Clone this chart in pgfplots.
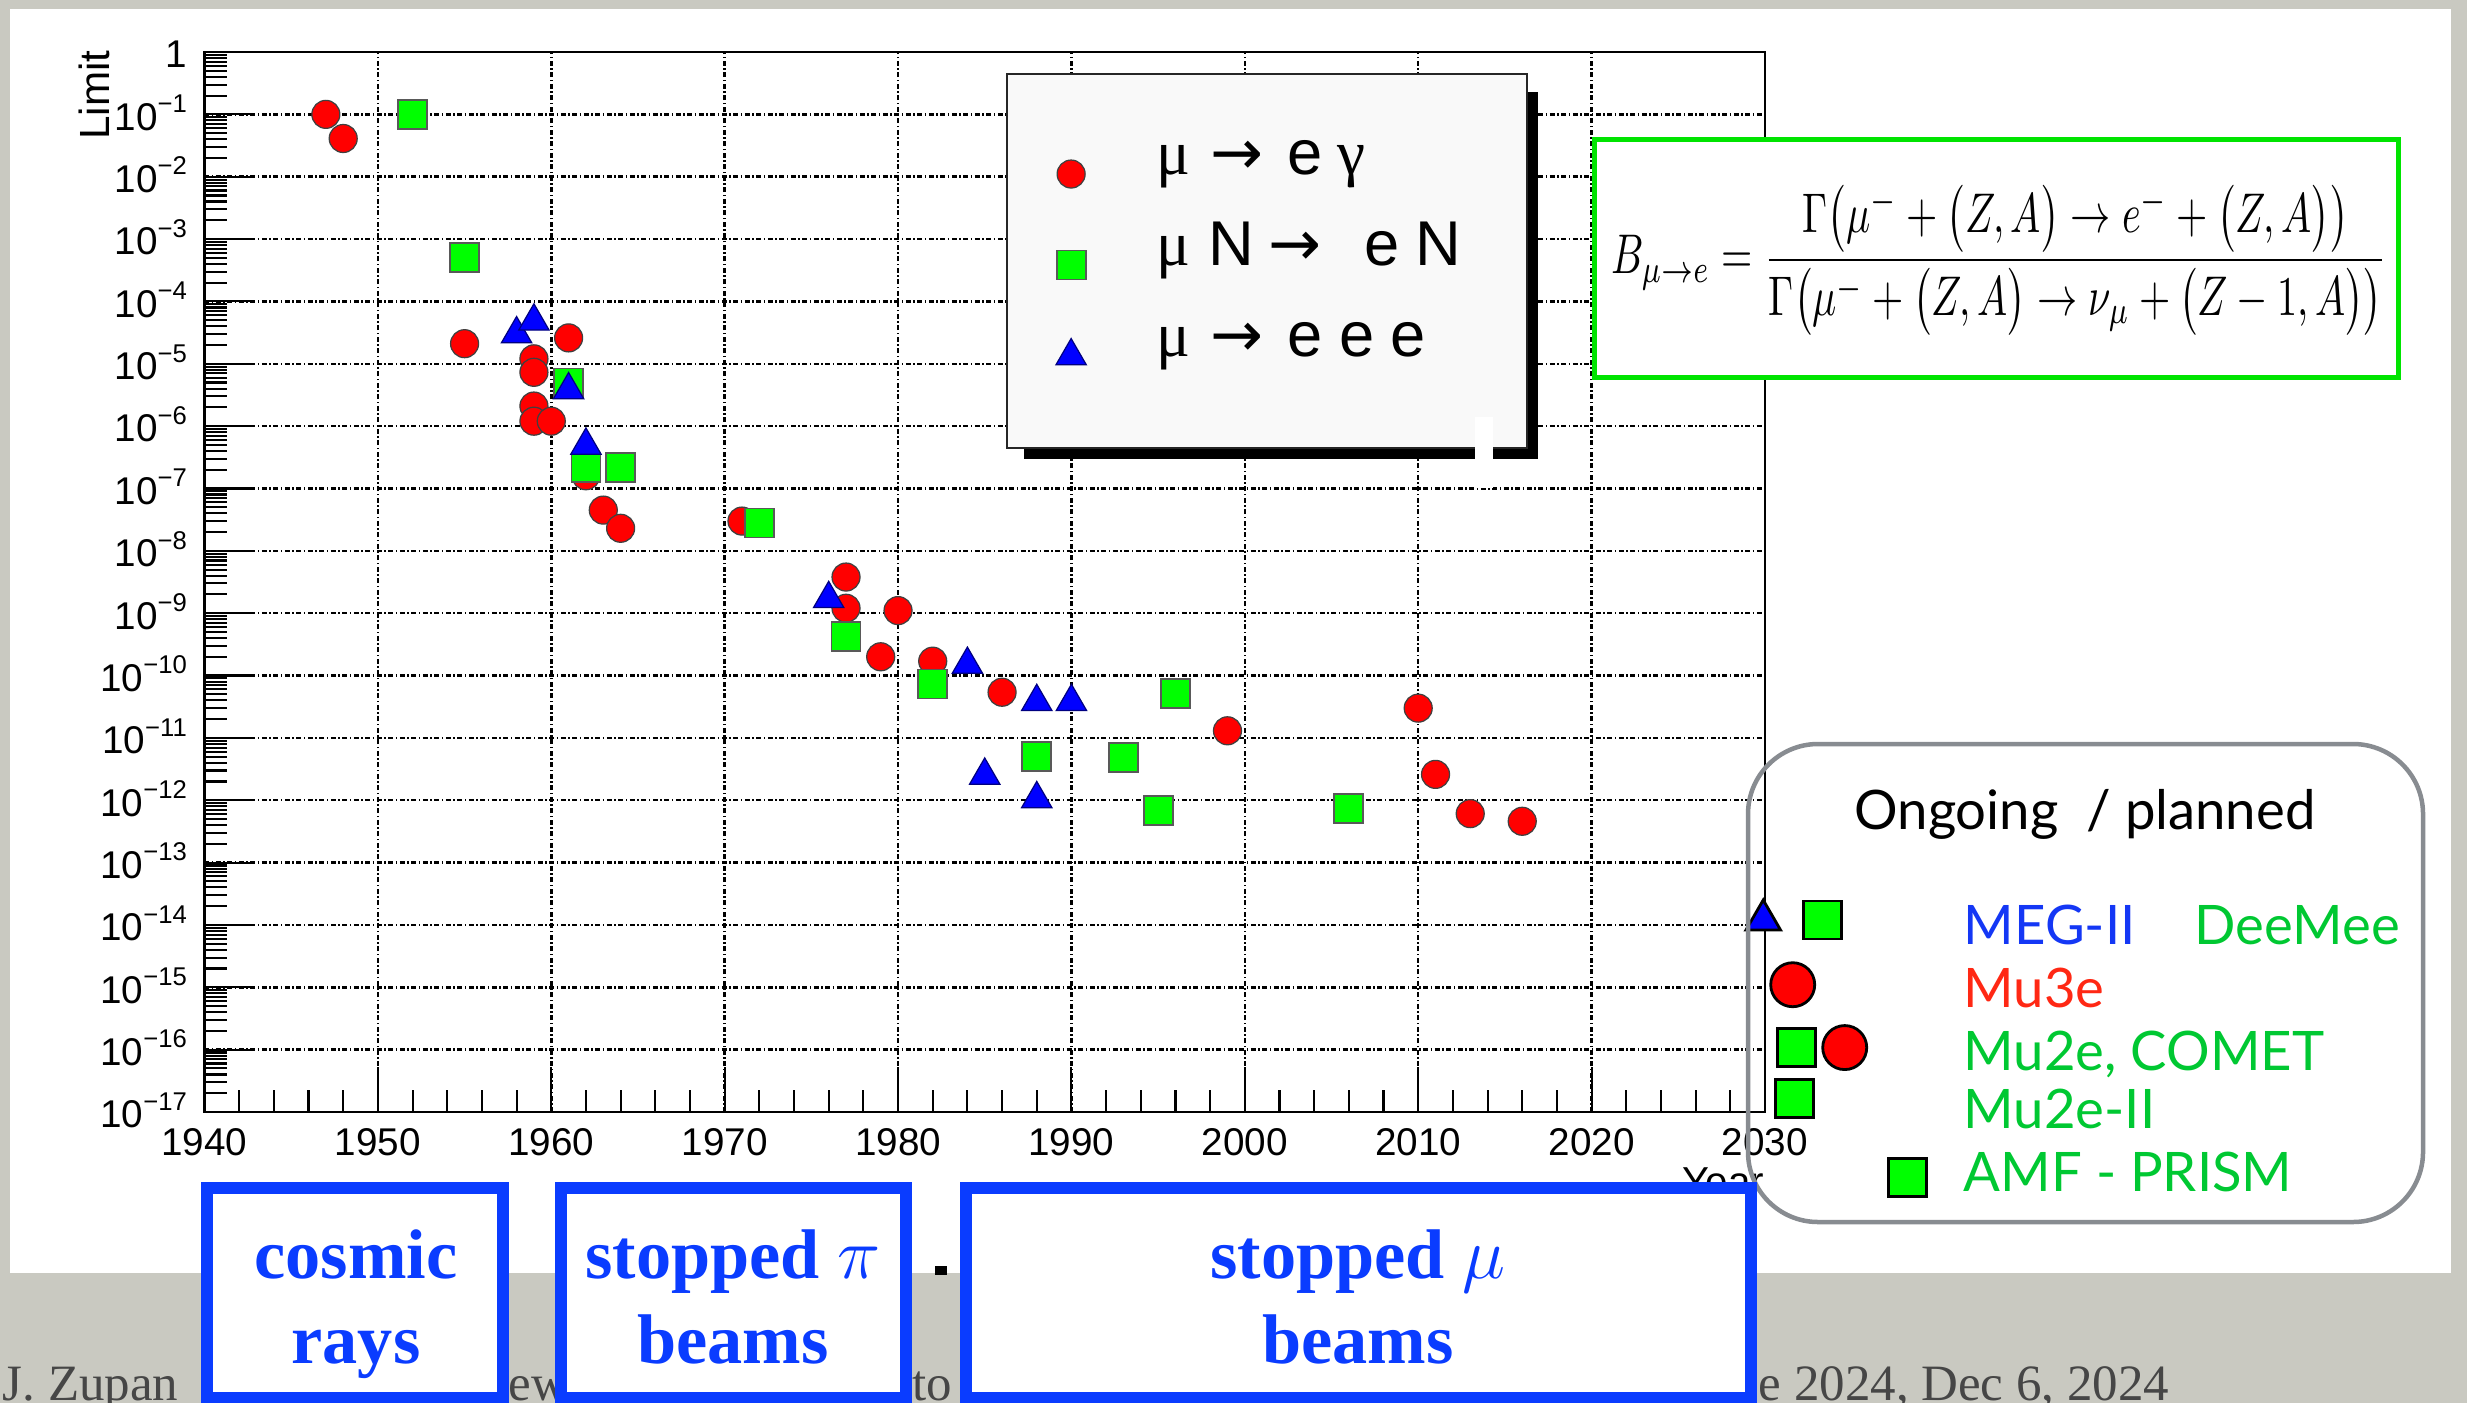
\documentclass[border=0pt]{standalone}
\usepackage{pgfplots}
\pgfplotsset{compat=1.18}
\usepackage{graphicx}
\usepackage{fontspec}
\setmainfont{Liberation Sans}
\newfontfamily\serif{Liberation Serif}
\newfontfamily\lato{Lato}
\newfontfamily\dejavu{DejaVu Sans}
\definecolor{bggray}{RGB}{201,201,193}
\definecolor{rootred}{RGB}{255,0,0}
\definecolor{rootgreen}{RGB}{0,255,0}
\definecolor{rootblue}{RGB}{0,0,255}
\definecolor{boxgreen}{RGB}{0,228,0}
\definecolor{ongray}{RGB}{136,140,145}
\definecolor{megblue}{RGB}{20,55,245}
\definecolor{txtgreen}{RGB}{0,200,50}
\definecolor{txtred}{RGB}{255,40,20}
\definecolor{stampblue}{RGB}{10,60,255}
\definecolor{footgray}{RGB}{70,70,70}

\newcommand\logtick[1]{\pgfmathtruncatemacro\myex{round(#1)}\ifnum\myex=0 1\else 10\raisebox{5pt}{\fontsize{7.3}{7.3}\selectfont −\the\numexpr-\myex\relax}\fi}
\newcommand\arr{{\dejavu →}}

\def\minorlist{2e-1,3e-1,4e-1,5e-1,6e-1,7e-1,8e-1,9e-1}
\foreach \e in {-17,...,-2}{\foreach \m in {2,...,9}{\xdef\minorlist{\minorlist,\m e\e}}}

\pgfplotsset{singlemark legend/.style={legend image code/.code={\draw[##1] plot coordinates {(0cm,0cm)};}}}

\begin{document}
\begin{tikzpicture}
\path[use as bounding box] (0,0) rectangle (246.7mm,-140.3mm);
\clip (0,0) rectangle (246.7mm,-140.3mm);
\begin{scope}[x=0.1mm,y=-0.1mm]
\fill[bggray] (0,0) rectangle (2467,1403);
\fill[white] (10,9) rectangle (2451,1273);
% footer
\begin{scope}[every node/.style={anchor=base west, inner sep=0pt, text=footgray, font=\serif\fontsize{14.5}{16}\selectfont}]
\node at (2,1400) {J. Zupan};
\node at (508,1400) {ew};
\node at (912,1400) {to};
\node at (1758,1400) {e 2024, Dec 6, 2024};
\end{scope}
\node[anchor=north east, inner sep=0pt, font=\fontsize{11.5}{13}\selectfont] at (1765,1167) {Year};
\end{scope}

\begin{axis}[
  at={(20.45mm,-111.2mm)}, anchor=south west,
  scale only axis, width=156.05mm, height=106mm,
  xmin=1940, xmax=2030, ymin=1e-17, ymax=1,
  ymode=log, log basis y=10,
  clip=false,
  axis line style={line width=0.65pt},
  xtick={1940,1950,1960,1970,1980,1990,2000,2010,2020,2030},
  xticklabels={1940,1950,1960,1970,1980,1990,2000,2010,2020,2030},
  minor x tick num=4,
  ytick={1e-17,1e-16,1e-15,1e-14,1e-13,1e-12,1e-11,1e-10,1e-9,1e-8,1e-7,1e-6,1e-5,1e-4,1e-3,1e-2,1e-1,1},
  minor ytick/.expanded={\minorlist},
  yticklabel={\logtick{\tick}},
  tick pos=left, tick align=inside,
  major tick length=4.5mm, minor tick length=2.2mm,
  tick style={black, line width=0.6pt},
  xmajorgrids, ymajorgrids,
  major grid style={black, line width=0.7pt, dash pattern=on 0.5mm off 0.25mm on 0.15mm off 0.25mm},
  ticklabel style={font=\fontsize{11}{13}\selectfont, inner sep=0pt},
  xticklabel style={anchor=north, yshift=-1.6mm},
  yticklabel style={anchor=base east, xshift=-1.7mm, yshift=-4.5pt},
  singlemark legend,
  legend style={at={(0.54566,0.9132)}, anchor=north west, draw=none, fill=none,
    inner sep=0pt, outer sep=0pt, row sep=3.1mm,
    /tikz/every odd column/.append style={column sep=7mm},
    nodes={inner sep=0pt, text height=3mm, text depth=3mm},
    font=\fontsize{18}{18}\selectfont},
  legend cell align=left,
]
\addplot[only marks, mark=*, mark size=1.4mm, mark options={fill=rootred, draw=black!75, line width=0.35pt}] coordinates {
(1947,1e-1) (1948,4.1e-2) (1955,2.1e-5) (1959,1.2e-5) (1959,7.3e-6) (1959,2.1e-6) (1959,1.2e-6) (1960,1.2e-6)
(1961,2.6e-5) (1962,1.6e-7) (1963,4.5e-8) (1964,2.3e-8) (1971,3.0e-8) (1977,3.8e-9) (1977,1.2e-9) (1979,2.0e-10)
(1980,1.1e-9) (1982,1.7e-10) (1986,5.4e-11) (1999,1.3e-11) (2010,3.0e-11) (2011,2.6e-12) (2013,6.1e-13) (2016,4.6e-13)
};
\addlegendentry{{\serif μ}\hspace{2.04mm}\arr\hspace{2.38mm}e\hspace{1.47mm}{\serif γ}}
\addplot[only marks, mark=square*, mark size=1.45mm, mark options={fill=rootgreen, draw=black!65, line width=0.5pt}] coordinates {
(1952,1e-1) (1955,5e-4) (1961,4.9e-6) (1962,2.2e-7) (1964,2.2e-7) (1972,2.8e-8) (1977,4.2e-10)
(1982,7.3e-11) (1988,5e-12) (1993,4.8e-12) (1996,5.1e-11) (1995,6.9e-13) (2006,7.4e-13)
};
\addlegendentry{{\serif μ}\hspace{1.84mm}N\hspace{1.41mm}\arr\hspace{4.28mm}e\hspace{1.57mm}N}
\addplot[only marks, mark=triangle*, mark size=1.75mm, mark options={fill=rootblue, draw=blue!50!black, line width=0.35pt}] coordinates {
(1958,3e-5) (1959,4.8e-5) (1961,3.8e-6) (1962,4.9e-7) (1976,1.7e-9) (1984,1.5e-10) (1985,2.5e-12)
(1988,3.8e-11) (1988,1.05e-12) (1990,3.8e-11)
};
\addlegendentry{{\serif μ}\hspace{2.04mm}\arr\hspace{2.38mm}e\hspace{1.67mm}e\hspace{1.57mm}e}
% ongoing / planned
\addplot[forget plot, only marks, mark=triangle*, mark size=2.0mm, mark options={fill=rootblue, draw=black, line width=0.8pt}] coordinates {(2029.9,1.2e-14)};
\addplot[forget plot, only marks, mark=square*, mark size=1.9mm, mark options={fill=rootgreen, draw=black, line width=0.8pt}] coordinates {(2033.3,1.2e-14) (2031.8,1.08e-16) (2031.7,1.67e-17) (2038.2,9e-19)};
\addplot[forget plot, only marks, mark=*, mark size=2.2mm, mark options={fill=rootred, draw=black, line width=0.8pt}] coordinates {(2031.6,1.1e-15) (2034.6,1.08e-16)};
% legend frame (behind legend entries)
\fill[black] (rel axis cs:0.52515,0.96226) rectangle (rel axis cs:0.85453,0.61604);
\filldraw[fill=white!97.5!black, draw=black!85, line width=0.5pt] (rel axis cs:0.51426,0.97925) rectangle (rel axis cs:0.84749,0.62642);
\end{axis}

\begin{scope}[x=0.1mm,y=-0.1mm]
\node[rotate=90, anchor=base east, inner sep=0pt, font=\fontsize{12}{14}\selectfont] at (109,50) {Limit};
\fill[white] (1475,417) rectangle (1493,488);
% formula box
\draw[boxgreen, line width=0.5mm, fill=white] (1594.5,139.5) rectangle (2398,377);
\node[inner sep=0pt] at (1999,260) {\resizebox*{77.6mm}{15mm}{$\displaystyle B_{\mu\to e}=\frac{\Gamma\bigl(\mu^-+\bigl(Z,A\bigr)\to e^-+\bigl(Z,A\bigr)\bigr)}{\Gamma\bigl(\mu^-+\bigl(Z,A\bigr)\to \nu_\mu+\bigl(Z-1,A\bigr)\bigr)}$}};
% ongoing box
\draw[ongray, line width=0.45mm, rounded corners=7mm] (1748,744) rectangle (2423,1222);
\begin{scope}[every node/.style={anchor=base west, inner sep=0pt, font=\lato\fontsize{15.5}{18}\selectfont}]
\node[anchor=base] at (2085,829) {Ongoing\ \ / planned};
\node[text=megblue] at (1963,944) {MEG-II};
\node[text=txtgreen] at (2194,944) {DeeMee};
\node[text=txtred] at (1963,1007) {Mu3e};
\node[text=txtgreen] at (1963,1070) {Mu2e, COMET};
\node[text=txtgreen] at (1963,1128) {Mu2e-II};
\node[text=txtgreen] at (1963,1191) {AMF - PRISM};
\end{scope}
% bottom stamps
\draw[stampblue, line width=1.2mm, fill=white] (207,1188) rectangle (503,1398);
\draw[stampblue, line width=1.2mm, fill=white] (561,1188) rectangle (906,1398);
\draw[stampblue, line width=1.2mm, fill=white] (966,1188) rectangle (1751,1398);
\fill[black] (935,1266) rectangle (947,1275);
\begin{scope}[every node/.style={anchor=base, inner sep=0pt, text=stampblue, font=\serif\bfseries\fontsize{20}{24}\selectfont}]
\node at (356,1278) {cosmic};
\node at (356,1363) {rays};
\node at (733,1278) {stopped $\pi$};
\node at (733,1363) {beams};
\node at (1358,1278) {stopped $\mu$};
\node at (1358,1363) {beams};
\end{scope}
\end{scope}
\end{tikzpicture}
\end{document}
